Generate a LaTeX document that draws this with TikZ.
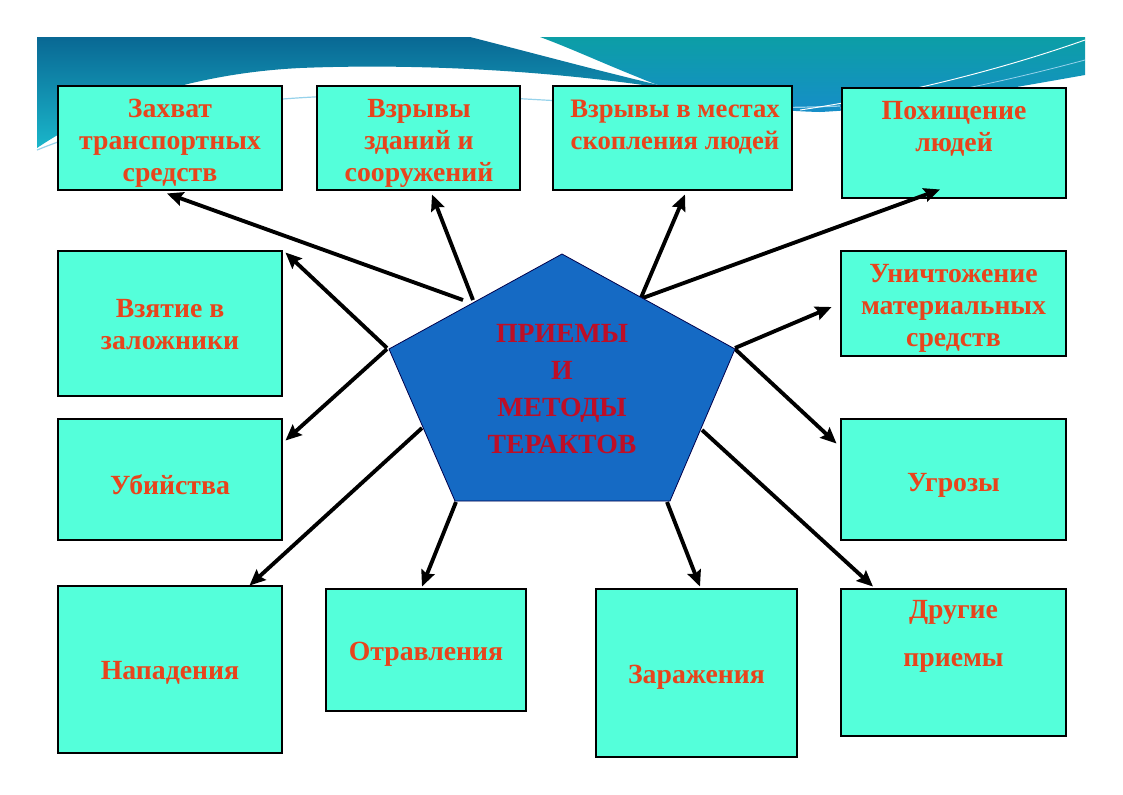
\documentclass[tikz,border=0pt]{standalone}
\usepackage{fontspec}
\setmainfont{Liberation Serif}
\usetikzlibrary{arrows.meta,calc}
\definecolor{boxfill}{RGB}{84,255,218}
\definecolor{boxtext}{RGB}{232,68,28}
\definecolor{centertext}{RGB}{190,14,38}
\definecolor{pentafill}{RGB}{21,106,196}
\definecolor{bandtop}{RGB}{9,104,148}
\definecolor{bandbot}{RGB}{26,182,202}
\definecolor{tealtop}{RGB}{12,158,166}
\definecolor{tealbot}{RGB}{22,142,200}
\definecolor{thinline}{RGB}{150,210,235}
\begin{document}
\begin{tikzpicture}[x=0.75pt,y=-0.75pt,
  box/.style={draw=black, line width=2.2pt, fill=boxfill, inner sep=0pt},
  boxlabel/.style={text=boxtext, align=center, font=\bfseries\fontsize{20.8}{24}\selectfont},
  centerlabel/.style={text=centertext, align=center, font=\bfseries\fontsize{20.8}{27.75}\selectfont},
  arr/.style={draw=black, line width=2.9pt, -{Stealth[length=12pt,width=10.5pt,inset=1.8pt]}},
  penta/.style={fill=pentafill, draw=black!70!blue, line width=0.6pt}
]
\useasboundingbox (0,0) rectangle (1123,794);
\fill[white] (0,0) rectangle (1123,794);

% ---- banner ----
\shade[top color=bandtop, bottom color=bandbot]
  (37,37) -- (470,37) .. controls (560,60) and (640,82) .. (700,94)
  .. controls (600,76) and (450,62) .. (300,68)
  .. controls (180,74) and (90,112) .. (37,148) -- cycle;
\shade[top color=tealtop, bottom color=tealbot]
  (540,37) -- (1085,37) -- (1085,75)
  .. controls (1000,90) and (900,108) .. (820,112)
  .. controls (740,110) and (680,95) .. (640,78)
  .. controls (600,62) and (570,48) .. (540,37) -- cycle;
\draw[thinline, line width=0.9pt]
  (37,150) .. controls (150,104) and (300,92) .. (450,95)
  .. controls (560,100) and (700,112) .. (840,106);
\draw[white, line width=0.7pt] (1085,40) .. controls (1000,70) and (900,95) .. (800,110);
\draw[thinline, line width=0.6pt] (1085,60) .. controls (1010,80) and (930,98) .. (840,108);

% ---- boxes ----
\node[box, minimum width=168pt,    minimum height=78pt]     (b1)  at (170,138)   {};
\node[box, minimum width=152.25pt, minimum height=78pt]     (b2)  at (418.5,138) {};
\node[box, minimum width=179.25pt, minimum height=78pt]     (b3)  at (672.5,138) {};
\node[box, minimum width=168pt,    minimum height=82.5pt]   (b4)  at (954,143)   {};
\node[box, minimum width=168pt,    minimum height=108.75pt] (b5)  at (170,323.5) {};
\node[box, minimum width=168.75pt, minimum height=78.75pt]  (b6)  at (953.5,303.5) {};
\node[box, minimum width=168pt,    minimum height=90.75pt]  (b7)  at (170,479.5) {};
\node[box, minimum width=168.75pt, minimum height=90.75pt]  (b8)  at (953.5,479.5) {};
\node[box, minimum width=168pt,    minimum height=125.25pt] (b9)  at (170,669.5) {};
\node[box, minimum width=150pt,    minimum height=91.5pt]   (b10) at (426,650)   {};
\node[box, minimum width=150.75pt, minimum height=126pt]    (b11) at (696.5,673) {};
\node[box, minimum width=168.75pt, minimum height=110.25pt] (b12) at (953.5,662.5) {};

% ---- arrow start points on the pentagon ----
\coordinate (s1)  at (463,300);
\coordinate (s2)  at (473,300);
\coordinate (s3)  at (640,300);
\coordinate (s4)  at (640,299);
\coordinate (s5)  at (387,348);
\coordinate (s6)  at (735,348);
\coordinate (s7)  at (387,349);
\coordinate (s8)  at (735,349);
\coordinate (s9)  at (422,428);
\coordinate (s10) at (456,502);
\coordinate (s11) at (667,502);
\coordinate (s12) at (702,430);

% ---- arrows ----
\draw[arr] (s1)  -- ($(b1.south)+(-3,2)$);
\draw[arr] (s2)  -- ($(b2.south)+(13.5,3)$);
\draw[arr] (s3)  -- ($(b3.south)+(12.5,3)$);
\draw[arr] (s4)  -- ($(b4.south)+(-14,-10)$);
\draw[arr] (s5)  -- ($(b5.north east)+(2,3)$);
\draw[arr] (s6)  -- ($(b6.west)+(-8,3.5)$);
\draw[arr] (s7)  -- ($(b7.north east)+(2,23)$);
\draw[arr] (s8)  -- ($(b8.north west)+(-3,26)$);
\draw[arr] (s9)  -- ($(b9.north east)+(-34,1)$);
\draw[arr] (s10) -- ($(b10.north)+(-4,-1)$);
\draw[arr] (s11) -- ($(b11.north)+(3.5,-1)$);
\draw[arr] (s12) -- ($(b12.north)+(-80.5,-1)$);

% ---- pentagon ----
\coordinate (pT)  at (562,254);
\coordinate (pR)  at (735,349);
\coordinate (pBR) at (670,501);
\coordinate (pBL) at (455,501);
\coordinate (pL)  at (389,349);
\draw[penta] (pT) -- (pR) -- (pBR) -- (pBL) -- (pL) -- cycle;

% ---- texts ----
\node[boxlabel] (t1)  at (170,143) {Захват\\транспортных\\средств};
\node[boxlabel] (t2)  at (419,143) {Взрывы\\зданий и\\сооружений};
\node[boxlabel, font=\bfseries\fontsize{20}{24}\selectfont] (t3)  at (675,127) {Взрывы в местах\\скопления людей};
\node[boxlabel] (t4)  at (954,129) {Похищение\\людей};
\node[boxlabel] (t5)  at (170,325) {Взятие в\\заложники};
\node[boxlabel] (t6)  at (953.5,308) {Уничтожение\\материальных\\средств};
\node[boxlabel] (t7)  at (170,485) {Убийства};
\node[boxlabel] (t8)  at (953.5,485) {Угрозы};
\node[boxlabel] (t9)  at (170,673) {Нападения};
\node[boxlabel] (t10) at (426,654) {Отравления};
\node[boxlabel] (t11) at (696.5,677) {Заражения};
\node[boxlabel, font=\bfseries\fontsize{20.8}{36}\selectfont] (t12) at (953.5,636) {Другие\\приемы};
\node[centerlabel] (c) at (562,389) {ПРИЕМЫ\\И\\МЕТОДЫ\\ТЕРАКТОВ};
\end{tikzpicture}
\end{document}
